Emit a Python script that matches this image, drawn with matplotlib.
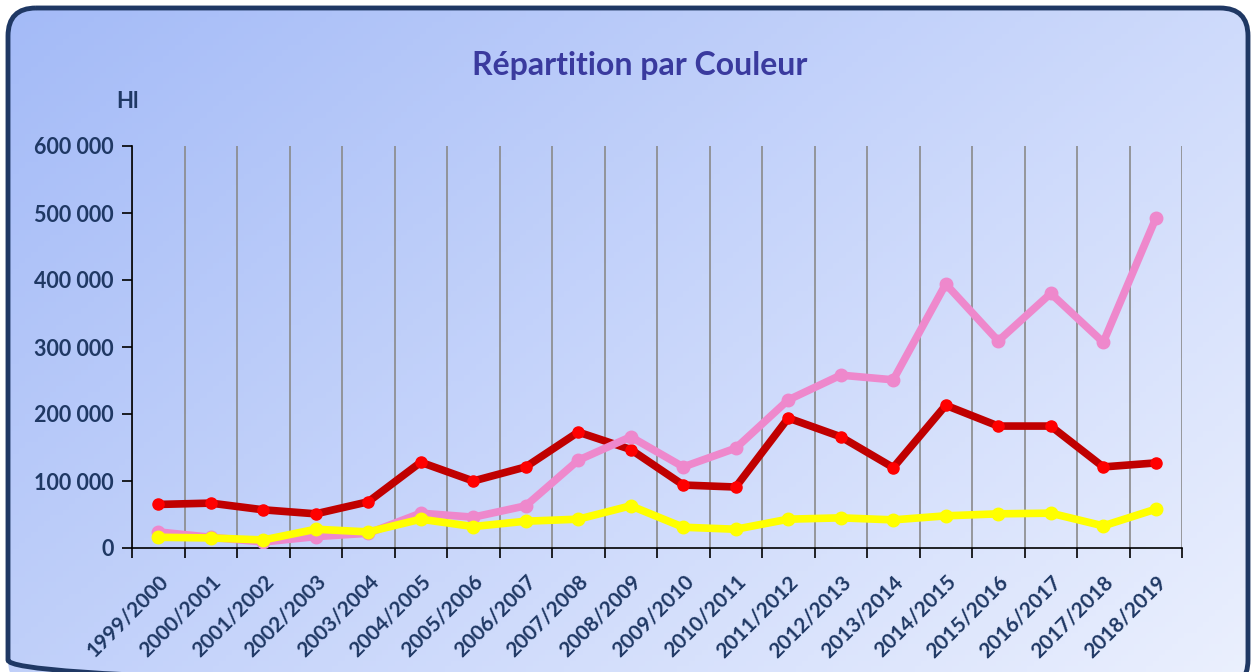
import numpy as np
import matplotlib.pyplot as plt
from matplotlib.patches import FancyBboxPatch

# campaigns
saisons = ["1999/2000", "2000/2001", "2001/2002", "2002/2003", "2003/2004",
           "2004/2005", "2005/2006", "2006/2007", "2007/2008", "2008/2009",
           "2009/2010", "2010/2011", "2011/2012", "2012/2013", "2013/2014",
           "2014/2015", "2015/2016", "2016/2017", "2017/2018", "2018/2019"]

# volumes in Hl
rouge = [65000, 67000, 57000, 51000, 69000, 128000, 100000, 121000, 173000, 147000,
         94000, 91000, 194000, 166000, 120000, 213000, 182000, 182000, 121000, 127000]
rose = [24000, 16000, 9000, 17000, 22000, 52000, 46000, 63000, 131000, 166000,
        121000, 149000, 221000, 258000, 251000, 394000, 309000, 380000, 307000, 492000]
blanc = [16000, 15000, 12000, 28000, 24000, 43000, 32000, 40000, 43000, 63000,
         31000, 28000, 43000, 45000, 42000, 48000, 51000, 52000, 33000, 58000]

yticks = [0, 100000, 200000, 300000, 400000, 500000, 600000]

navy = "#1f3864"
plt.rcParams['font.family'] = ['Lato', 'DejaVu Sans']

fig = plt.figure(figsize=(12.53, 6.72), dpi=100)
fig.patch.set_facecolor("white")

# background with gradient and rounded border
bg = fig.add_axes([0, 0, 1, 1])
bg.set_xlim(0, 1253)
bg.set_ylim(672, 0)
bg.axis("off")
xx, yy = np.meshgrid(np.linspace(0, 1, 200), np.linspace(0, 1, 120))
t = (xx * 0.6 + yy * 0.4)
c0 = np.array([0.64, 0.73, 0.97])
c1 = np.array([0.92, 0.94, 0.995])
grad = c0 + (c1 - c0) * t[..., None]
img = bg.imshow(grad, extent=[0, 1253, 672, 0], aspect="auto", zorder=0)
box = FancyBboxPatch((8, 8), 1240, 680, boxstyle="round,pad=0,rounding_size=28",
                     facecolor="none", edgecolor=navy, linewidth=3.5, zorder=2)
bg.add_patch(box)
img.set_clip_path(box)

ax = fig.add_axes([132 / 1253, 1 - 548 / 672, 1050 / 1253, 402 / 672])
ax.patch.set_alpha(0)

x = np.arange(len(saisons))
ax.plot(x, rouge, color="#c00000", lw=5.5, marker="o", ms=8,
        mfc="#ff0000", mec="#ff0000", zorder=3)
ax.plot(x, rose, color="#ee88cc", lw=5.5, marker="o", ms=9,
        mfc="#ee88cc", mec="#ee88cc", zorder=4)
ax.plot(x, blanc, color="#ffff00", lw=5.5, marker="o", ms=9,
        mfc="#ffff00", mec="#ffff00", zorder=5)

ax.set_xlim(-0.5, len(saisons) - 0.5)
ax.set_ylim(0, 600000)
ax.set_yticks(yticks)
ax.set_yticklabels([f"{v:,}".replace(",", " ") for v in yticks],
                   fontsize=15.5, fontweight="bold", color=navy)

ax.set_xticks(x)
ax.set_xticklabels(saisons, rotation=45, ha="right", rotation_mode="anchor",
                   fontsize=15, fontweight="bold", color=navy)
ax.tick_params(axis="x", length=0, pad=17)
ax.set_xticks(np.arange(-0.5, len(saisons)), minor=True)
ax.tick_params(axis="x", which="minor", length=7, width=1.2, color="black")
ax.tick_params(axis="y", length=7, width=1.2, pad=6)
ax.grid(True, axis="x", which="minor", color="#8a8a8a", lw=1.2)
ax.grid(False, axis="x", which="major")

for s in ["top", "right"]:
    ax.spines[s].set_visible(False)
ax.spines["left"].set_linewidth(1.2)
ax.spines["bottom"].set_linewidth(1.2)

fig.text(640 / 1253, 1 - 66 / 672, "Répartition par Couleur", ha="center", va="center",
         fontsize=23, fontweight="bold", color="#3a3a9e")
fig.text(128 / 1253, 1 - 101 / 672, "Hl", ha="center", va="center",
         fontsize=16, fontweight="bold", color=navy)

fig.savefig("out.png", dpi=100)
